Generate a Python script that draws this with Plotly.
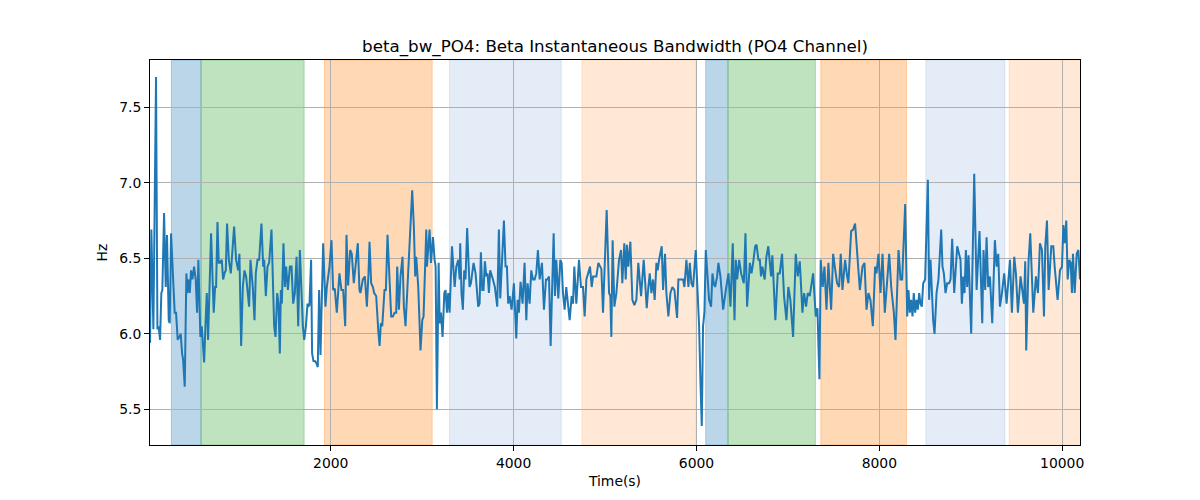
import plotly.graph_objects as go

# --- data -------------------------------------------------------------------
time_s = [
    23, 38, 60, 89, 104, 118, 133, 147, 158, 177, 195, 209, 228, 239, 253, 271, 293, 308, 326, 344,
    359, 374, 385, 403, 421, 432, 447, 458, 472, 487, 505, 523, 538, 552, 574, 589, 615, 629, 644, 658,
    673, 691, 720, 735, 746, 761, 775, 790, 808, 823, 837, 852, 866, 885, 907, 943, 965, 987, 1001, 1020,
    1038, 1056, 1074, 1107, 1122, 1147, 1166, 1180, 1199, 1217, 1242, 1261, 1272, 1290, 1308, 1326, 1352,
    1381, 1396, 1414, 1428, 1443, 1454, 1465, 1483, 1498, 1512, 1531, 1553, 1571, 1589, 1607, 1626, 1644,
    1662, 1677, 1695, 1710, 1728, 1746,
    1752, 1767, 1785, 1796, 1811, 1825, 1840, 1858, 1873, 1888, 1917, 1942, 1957, 1986, 2008, 2026, 2044,
    2066, 2095, 2117, 2136, 2158, 2172, 2190, 2212, 2230, 2252, 2296, 2314, 2325, 2351, 2373, 2395, 2413,
    2424, 2442, 2461, 2475, 2497, 2519, 2534, 2548, 2563, 2588, 2603, 2621, 2643, 2661, 2680, 2698, 2716,
    2727, 2745, 2763, 2785, 2800, 2818, 2836, 2851, 2891, 2909, 2924, 2935, 2957, 2982, 3001, 3015, 3045,
    3052, 3081, 3096, 3118, 3136, 3147, 3161, 3180, 3191, 3205, 3223, 3242, 3256, 3271, 3285, 3300, 3326,
    3355, 3373, 3395, 3410,
    3416, 3430, 3445, 3460, 3474, 3492, 3518, 3533, 3562, 3584, 3613, 3628, 3642, 3657, 3671, 3686, 3701,
    3715, 3730, 3744, 3759, 3774, 3795, 3821, 3839, 3854, 3894, 3912, 3927, 3941, 3956, 3978, 4003, 4029,
    4044, 4058, 4076, 4098, 4120, 4139, 4153, 4175, 4193, 4212, 4230, 4248, 4266, 4285, 4310, 4332, 4354,
    4372, 4387, 4405, 4420, 4438, 4452, 4467, 4489, 4511, 4525, 4540, 4558, 4576, 4613, 4635, 4650, 4664,
    4686, 4715, 4737, 4759, 4777, 4796, 4836, 4854, 4869, 4887, 4905, 4927, 4960, 4978, 5018, 5044,
    5058, 5069, 5083, 5102, 5124, 5153, 5175, 5189, 5211, 5226, 5240, 5255, 5277, 5299, 5321, 5343, 5364,
    5394, 5423, 5437, 5456, 5474, 5489, 5507, 5525, 5543, 5562, 5576, 5591, 5620, 5635, 5656, 5671, 5693,
    5715, 5737, 5759, 5788, 5802, 5832, 5854, 5868, 5890, 5912, 5927, 5945, 5963, 5992, 6010, 6029, 6043,
    6058, 6072, 6087, 6102, 6124, 6138, 6160, 6175, 6189, 6204, 6226, 6240, 6262, 6292, 6321, 6350, 6372,
    6397, 6416, 6430, 6445, 6467, 6489, 6518, 6536, 6554, 6584, 6602, 6620, 6642, 6657, 6678, 6693,
    6706, 6721, 6746, 6765, 6786, 6816, 6830, 6863, 6889, 6911, 6936, 6958, 6984, 7005, 7027, 7057, 7086,
    7108, 7130, 7159, 7177, 7199, 7217, 7239, 7261, 7276, 7305, 7323, 7345, 7359, 7381, 7400, 7422, 7443,
    7473, 7495, 7513, 7538, 7560, 7578, 7597, 7626, 7648, 7662, 7692, 7714, 7735, 7757, 7787, 7816, 7838,
    7860, 7881, 7903, 7929, 7954, 7969, 7991, 8013, 8035, 8060, 8108, 8130, 8159, 8177, 8210, 8232, 8250,
    8283, 8305, 8319, 8334,
    8348, 8363, 8377, 8392, 8407, 8421, 8436, 8450, 8465, 8480, 8501, 8531, 8545, 8560, 8574, 8589, 8604,
    8626, 8647, 8677, 8691, 8706, 8724, 8742, 8764, 8779, 8797, 8819, 8852, 8874, 8888, 8903, 8918, 8932,
    8947, 8961, 8976, 9005, 9038, 9064, 9096, 9126, 9140, 9158, 9173, 9191, 9210, 9235, 9264, 9283, 9301,
    9319, 9337, 9366, 9392, 9429, 9450, 9476, 9494, 9516, 9545, 9582, 9596, 9607, 9633, 9651, 9684, 9713,
    9735, 9757, 9779, 9801, 9815, 9834, 9852, 9881, 9903, 9918, 9950, 9976, 9998, 10013, 10027, 10045,
    10060, 10078, 10093, 10107, 10118, 10137, 10159, 10177, 10195,
]

bw_hz = [
    5.94, 6.69, 6.03, 7.70, 6.03, 6.05, 5.96, 6.27, 6.29, 6.80, 6.31, 6.655, 6.09, 6.07, 6.665, 6.40, 6.14,
    6.14, 5.96, 5.98, 6.00, 5.87, 5.83, 5.65, 6.40, 6.27, 6.36, 6.27, 6.42, 6.36, 6.445, 6.36, 6.14, 6.49,
    5.98, 6.05, 5.81, 6.05, 6.27, 5.96, 6.27, 6.665, 6.14, 6.31, 6.31, 6.74, 6.47, 6.47, 6.49, 6.36, 6.40,
    6.42, 6.73, 6.49, 6.40, 6.71, 6.49, 6.42, 6.53, 5.92, 6.31, 6.42, 6.38, 6.18, 6.49, 6.31, 6.09, 6.40,
    6.49, 6.49, 6.73, 6.445, 6.49, 6.25, 6.445, 6.47, 6.69, 6.05, 5.98, 6.27, 6.20, 5.87, 6.29, 6.20, 6.60,
    6.31, 6.445, 6.29, 6.445, 6.445, 6.20, 6.27, 6.51, 6.05, 6.555, 6.31, 6.05, 5.96, 6.05, 6.20,
    6.18, 6.19, 6.49, 5.87, 5.82, 5.82, 5.81, 5.78, 6.29, 5.86, 6.60, 6.18, 6.31, 6.445, 6.62, 6.29, 6.30,
    6.14, 6.40, 6.29, 6.29, 6.05, 6.655, 6.32, 6.555, 6.53, 6.335, 6.60, 6.29, 6.27, 6.36, 6.38, 6.18, 6.40,
    6.61, 6.335, 6.31, 6.27, 6.25, 6.03, 5.92, 6.07, 6.05, 6.29, 6.29, 6.655, 6.29, 6.115, 6.115, 6.14,
    6.14, 6.445, 6.16, 6.38, 6.51, 6.18, 6.05, 6.27, 6.47, 6.95, 6.71, 6.38, 6.51, 6.31, 5.89, 6.09, 6.115,
    6.69, 6.445, 6.69, 6.47, 6.64, 6.49, 6.445, 5.50, 6.47, 6.07, 6.14, 5.98, 6.27, 6.29, 6.14, 6.27, 6.14,
    6.58, 6.31, 6.445, 6.49, 6.36,
    6.60, 6.27, 6.16, 6.42, 6.36, 6.70, 6.31, 6.335, 6.47, 6.40, 6.18, 6.20, 6.54, 6.29, 6.29, 6.48, 6.38,
    6.40, 6.27, 6.42, 6.38, 6.36, 6.31, 6.18, 6.69, 6.235, 6.75, 6.445, 6.445, 6.20, 6.25, 6.16, 6.335,
    5.97, 6.225, 6.14, 6.345, 6.20, 6.47, 6.09, 6.335, 6.20, 6.42, 6.36, 6.36, 6.40, 6.555, 6.36, 6.47,
    6.16, 6.36, 6.36, 6.38, 5.92, 6.27, 6.665, 6.25, 6.49, 6.235, 6.49, 6.47, 6.27, 6.16, 6.31, 6.09, 6.25,
    6.20, 6.445, 6.20, 6.49, 6.31, 6.31, 6.115, 6.36, 6.445, 6.31, 6.38, 6.38, 6.38, 6.47, 6.43, 6.14,
    6.82, 6.27,
    6.25, 5.98, 6.62, 6.18, 6.27, 6.49, 6.555, 6.335, 6.60, 6.36, 6.59, 6.445, 6.61, 6.225, 6.19, 6.225,
    6.47, 6.25, 6.49, 6.36, 6.17, 6.31, 6.40, 6.27, 6.36, 6.225, 6.47, 6.42, 6.49, 6.58, 6.29, 6.53, 6.27,
    6.115, 6.27, 6.31, 6.29, 6.105, 6.36, 6.36, 6.36, 6.31, 6.49, 6.31, 6.47, 6.335, 6.31, 6.555, 6.29,
    6.05, 5.70, 5.39, 6.05, 6.14, 6.555, 6.38, 6.225, 6.18, 6.40, 6.335, 6.31, 6.38, 6.47, 6.38, 6.16,
    6.29, 6.40, 6.18, 6.60, 6.09, 6.49, 6.36, 6.49, 6.40, 6.335, 6.665, 6.18, 6.47, 6.40, 6.47, 6.58, 6.59,
    6.49, 6.49,
    6.38, 6.445, 6.36, 6.51, 6.58, 6.38, 6.52, 6.09, 6.40, 6.40, 6.53, 6.25, 6.09, 6.31, 6.225, 5.98, 6.53,
    6.38, 6.48, 6.14, 6.27, 6.18, 6.27, 6.25, 6.335, 6.40, 6.115, 6.17, 5.70, 6.49, 6.31, 6.445, 6.16,
    6.47, 6.16, 6.53, 6.445, 6.335, 6.31, 6.53, 6.29, 6.49, 6.38, 6.335, 6.68, 6.69, 6.73, 6.51, 6.29,
    6.445, 6.47, 6.16, 6.27, 6.225, 6.05, 6.445, 6.40, 6.53, 6.27, 6.53, 6.14, 6.53, 6.31, 6.14, 5.96,
    6.555, 6.36, 6.36, 6.86, 6.115, 6.29, 6.14,
    6.225, 6.115, 6.27, 6.14, 6.225, 6.16, 6.27, 6.20, 6.18, 6.335, 6.36, 7.02, 6.225, 6.49, 6.225, 6.09,
    6.00, 6.27, 6.36, 6.69, 6.445, 6.40, 6.27, 6.335, 6.335, 6.36, 6.63, 6.27, 6.58, 6.53, 6.49, 6.20,
    6.38, 6.27, 6.555, 6.31, 6.52, 6.00, 7.06, 6.29, 6.68, 6.07, 6.555, 6.29, 6.64, 6.31, 6.38, 6.07, 6.62,
    6.445, 6.53, 6.18, 6.25, 6.40, 6.20, 6.49, 6.14, 6.51, 6.40, 6.14, 6.38, 6.20, 6.48, 5.89, 6.49,
    6.665, 6.14, 6.38, 6.27, 6.60, 6.555, 6.115, 6.58, 6.75, 6.29, 6.58, 6.58, 6.445, 6.225, 6.42, 6.445,
    6.72, 6.60, 6.75, 6.36, 6.49, 6.47, 6.27, 6.53, 6.27, 6.53, 6.555, 6.36,
]

# shaded segments (start, end in seconds) and their kind
seg_start = [257, 581, 1931, 3299, 4747, 6101, 6345, 7360, 8509, 9420]
seg_end = [581, 1709, 3110, 4521, 5995, 6345, 7301, 8297, 9373, 10300]
seg_kind = ["blue", "green", "orange", "blue_light", "orange_light",
            "blue", "green", "orange", "blue_light", "orange_light"]

x_ticks = [2000, 4000, 6000, 8000, 10000]
y_ticks = [5.5, 6.0, 6.5, 7.0, 7.5]

assert len(time_s) == len(bw_hz), (len(time_s), len(bw_hz))

SEG_COLORS = {
    "blue": "rgba(31,119,180,0.3)",
    "green": "rgba(44,160,44,0.3)",
    "orange": "rgba(255,127,14,0.3)",
    "blue_light": "rgba(31,100,190,0.12)",
    "orange_light": "rgba(255,127,14,0.17)",
}

FONT = "DejaVu Sans, Liberation Sans, sans-serif"
# the page body keeps its default 8px margin, so the figure is drawn 8px in from the corner
PAGE_PAD = 8

fig = go.Figure()

for x0, x1, kind in zip(seg_start, seg_end, seg_kind):
    fig.add_shape(type="rect", xref="x", yref="paper", x0=x0, x1=x1, y0=0, y1=1,
                  fillcolor=SEG_COLORS[kind], line=dict(color=SEG_COLORS[kind], width=1),
                  layer="below")

fig.add_trace(go.Scatter(x=time_s, y=bw_hz, mode="lines",
                         line=dict(color="#1f77b4", width=2), showlegend=False))

axis_common = dict(
    showgrid=True, gridcolor="#b0b0b0", gridwidth=1, zeroline=False,
    showline=True, linecolor="black", linewidth=1, mirror=True,
    ticks="outside", ticklen=5, tickwidth=1, tickcolor="black",
    tickfont=dict(family=FONT, size=13.9, color="black"),
)

fig.update_xaxes(range=[23, 10195], tickvals=x_ticks, ticktext=[str(v) for v in x_ticks],
                 title=dict(text="Time(s)", font=dict(family=FONT, size=13.9, color="black"),
                            standoff=6),
                 **axis_common)
fig.update_yaxes(range=[5.264, 7.813], tickvals=y_ticks, ticktext=[f"{v:.1f}" for v in y_ticks],
                 title=dict(text="Hz", font=dict(family=FONT, size=13.9, color="black"),
                            standoff=8),
                 **axis_common)

fig.update_layout(
    width=1200, height=500,
    margin=dict(l=150 - PAGE_PAD, r=120 + PAGE_PAD, t=60 - PAGE_PAD, b=55 + PAGE_PAD),
    paper_bgcolor="white", plot_bgcolor="white",
    title=dict(text="beta_bw_PO4: Beta Instantaneous Bandwidth (PO4 Channel)",
               font=dict(family=FONT, size=16.7, color="black"),
               x=0.5, xref="paper", xanchor="center", y=1, yref="paper", yanchor="bottom",
               pad=dict(b=8)),
    font=dict(family=FONT, color="black"),
)

fig.write_html("out.html")
